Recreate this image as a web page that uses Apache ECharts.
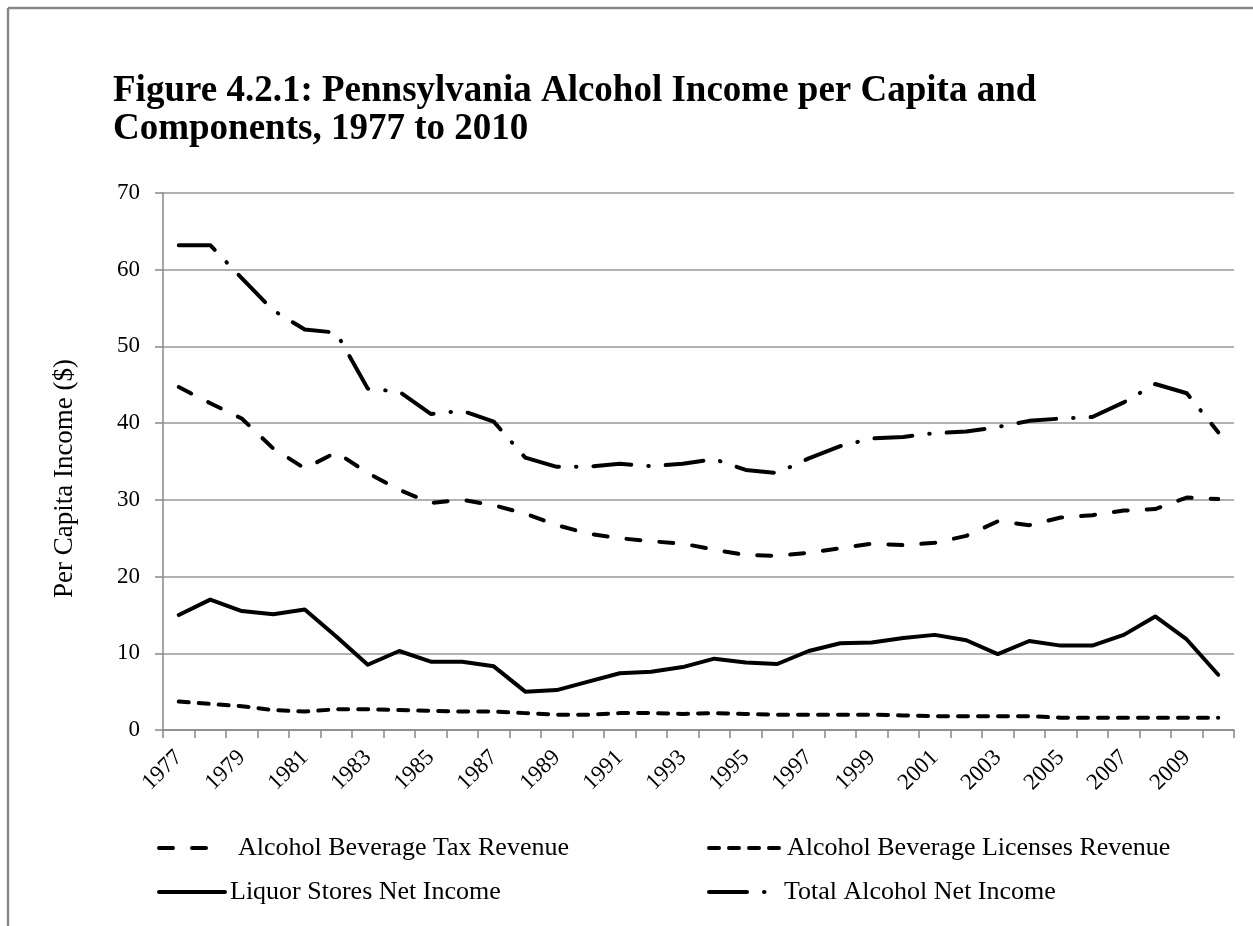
<!DOCTYPE html>
<html>
<head>
<meta charset="utf-8">
<script src="https://cdn.jsdelivr.net/npm/echarts@6/dist/echarts.min.js"></script>
<style>
html,body{margin:0;padding:0;background:#fff;}
#chart{width:1253px;height:926px;}
</style>
</head>
<body>
<div id="chart"></div>
<script>
const years = [1977,1978,1979,1980,1981,1982,1983,1984,1985,1986,1987,1988,1989,1990,1991,1992,1993,1994,1995,1996,1997,1998,1999,2000,2001,2002,2003,2004,2005,2006,2007,2008,2009,2010];
const taxRevenue = [44.7,42.6,40.6,36.7,34.1,36.2,33.5,31.3,29.6,30.0,29.3,28.2,26.7,25.6,25.0,24.6,24.3,23.5,22.8,22.7,23.1,23.7,24.3,24.1,24.4,25.3,27.2,26.7,27.7,28.0,28.6,28.8,30.3,30.1];
const licensesRevenue = [3.7,3.4,3.1,2.6,2.4,2.7,2.7,2.6,2.5,2.4,2.4,2.2,2.0,2.0,2.2,2.2,2.1,2.2,2.1,2.0,2.0,2.0,2.0,1.9,1.8,1.8,1.8,1.8,1.6,1.6,1.6,1.6,1.6,1.6];
const liquorStores = [15.0,17.0,15.5,15.1,15.7,12.2,8.5,10.3,8.9,8.9,8.3,5.0,5.2,6.3,7.4,7.6,8.2,9.3,8.8,8.6,10.3,11.3,11.4,12.0,12.4,11.7,9.9,11.6,11.0,11.0,12.4,14.8,11.8,7.2];
const totalIncome = [63.2,63.2,58.9,54.7,52.2,51.8,44.5,44.1,41.2,41.6,40.2,35.5,34.3,34.3,34.7,34.4,34.7,35.3,33.9,33.5,35.4,37.0,38.0,38.2,38.7,38.9,39.5,40.3,40.6,40.8,42.7,45.1,43.9,38.8];
const seriesNames = ['Alcohol Beverage Tax Revenue','Alcohol Beverage Licenses Revenue','Liquor Stores Net Income','Total Alcohol Net Income'];
const yTicks = [0,10,20,30,40,50,60,70];

const FONT = "'Liberation Serif','Times New Roman',serif";
const chart = echarts.init(document.getElementById('chart'), null, {renderer:'canvas'});

const dashTax = [14,19];
const dashLic = [10,10];
const dashTotal = [38,17,0.5,17];

function lineSeries(name, data, type) {
  return {
    name: name, type: 'line', data: data, symbol: 'none', showSymbol: false,
    lineStyle: {color:'#000', width:4, type: type, cap:'round', join:'round'},
    itemStyle: {color:'#000'},
    emphasis: {disabled:true}
  };
}
function legendAt(name, left, top, w, type) {
  return {
    data: [name], left: left, top: top, selectedMode: false,
    itemWidth: w, itemHeight: 14, padding: 0,
    itemStyle: {color:'rgba(0,0,0,0)', borderColor:'rgba(0,0,0,0)', borderWidth:0, opacity:0},
    lineStyle: {width: 4, color:'#000', cap:'round', type: type},
    textStyle: {fontFamily: FONT, fontSize: 26, color:'#000'}
  };
}

const option = {
  animation: false,
  backgroundColor: '#fff',
  title: {
    text: 'Figure 4.2.1: Pennsylvania Alcohol Income per Capita and\nComponents, 1977 to 2010',
    left: 113, top: 72, padding: 0,
    textStyle: {fontFamily: FONT, fontWeight:'bold', fontSize: 37, lineHeight: 38, color:'#000'}
  },
  grid: {left: 163, right: 19, top: 193, bottom: 196, containLabel: false},
  legend: [
    legendAt(seriesNames[0], 157, 835, 74, [14,19,14,40]),
    legendAt(seriesNames[1], 707, 835, 73, dashLic),
    legendAt(seriesNames[2], 157, 879, 66, 'solid'),
    legendAt(seriesNames[3], 707, 879, 70, dashTotal)
  ],
  xAxis: {
    type: 'category', data: years.map(String), boundaryGap: true,
    axisLine: {lineStyle: {color:'#888', width:1.5}},
    axisTick: {show:true, interval:0, length:8, lineStyle:{color:'#888', width:1.5}},
    axisLabel: {interval:1, rotate:45, margin:24, fontFamily: FONT, fontSize:23, color:'#000'},
    splitLine: {show:false}
  },
  yAxis: {
    type: 'value', min: yTicks[0], max: yTicks[yTicks.length-1], interval: 10,
    name: 'Per Capita Income ($)', nameLocation: 'middle', nameGap: 85,
    nameTextStyle: {fontFamily: FONT, fontSize: 27, color:'#000', padding: [0, 34, 0, 0]},
    axisLine: {show:true, lineStyle: {color:'#888', width:1.5}},
    axisTick: {show:true, length:8, lineStyle:{color:'#888', width:1.5}},
    axisLabel: {margin: 23, fontFamily: FONT, fontSize: 23, color:'#000'},
    splitLine: {show:true, lineStyle:{color:'#999', width:1.5}}
  },
  series: [
    lineSeries(seriesNames[0], taxRevenue, dashTax),
    lineSeries(seriesNames[1], licensesRevenue, dashLic),
    lineSeries(seriesNames[2], liquorStores, 'solid'),
    lineSeries(seriesNames[3], totalIncome, dashTotal)
  ],
  graphic: [
    {type:'line', shape:{x1:8, y1:8, x2:1253, y2:8}, style:{stroke:'#888', lineWidth:2.5}, silent:true},
    {type:'line', shape:{x1:8, y1:8, x2:8, y2:926}, style:{stroke:'#888', lineWidth:2.5}, silent:true}
  ]
};
chart.setOption(option);
</script>
</body>
</html>
